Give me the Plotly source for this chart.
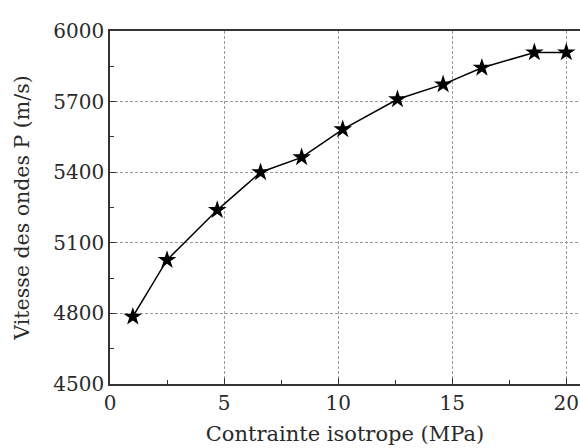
import plotly.graph_objects as go

contrainte = [1.0, 2.5, 4.7, 6.6, 8.4, 10.2, 12.6, 14.6, 16.3, 18.6, 20.0]
vitesse = [4786, 5027, 5239, 5400, 5463, 5582, 5710, 5773, 5844, 5909, 5909]

x_ticks = [0, 5, 10, 15, 20]
y_ticks = [4500, 4800, 5100, 5400, 5700, 6000]

font_family = "DejaVu Serif, Liberation Serif, serif"

fig = go.Figure()
fig.add_trace(go.Scatter(
    x=contrainte, y=vitesse, mode="lines+markers",
    line=dict(color="black", width=1.5),
    marker=dict(symbol="star", size=14, color="black"),
    showlegend=False, hoverinfo="skip"))

fig.update_layout(
    width=580, height=448,
    margin=dict(l=110, r=0, t=31, b=64),
    paper_bgcolor="white", plot_bgcolor="white",
    font=dict(family=font_family, size=20, color="#2a2a2a"),
)
fig.update_xaxes(
    range=[0, 20.6], tickvals=x_ticks, ticktext=[str(v) for v in x_ticks],
    ticks="inside", ticklen=6, tickwidth=1.2, tickcolor="#333",
    showline=True, linecolor="#333", linewidth=1.5, mirror=True,
    showgrid=True, gridcolor="#9a9a9a", gridwidth=1, griddash="3px,2px",
    zeroline=False,
    minor=dict(dtick=2.5, tick0=0, ticks="inside", ticklen=4, tickcolor="#333", showgrid=False),
    title=dict(text="Contrainte isotrope (MPa)", font=dict(size=21), standoff=13),
)
fig.update_yaxes(
    range=[4500, 6000], tickvals=y_ticks, ticktext=[str(v) for v in y_ticks],
    ticks="inside", ticklen=6, tickwidth=1.2, tickcolor="#333",
    showline=True, linecolor="#333", linewidth=1.5, mirror=False,
    showgrid=True, gridcolor="#9a9a9a", gridwidth=1, griddash="3px,2px",
    zeroline=False,
    minor=dict(dtick=150, tick0=4500, ticks="inside", ticklen=4, tickcolor="#333", showgrid=False),
    title=dict(text="Vitesse des ondes P (m/s)", font=dict(size=20.5), standoff=18),
)

fig.write_html("out.html", config={"displayModeBar": False},
               post_script="document.body.style.margin='0';")
